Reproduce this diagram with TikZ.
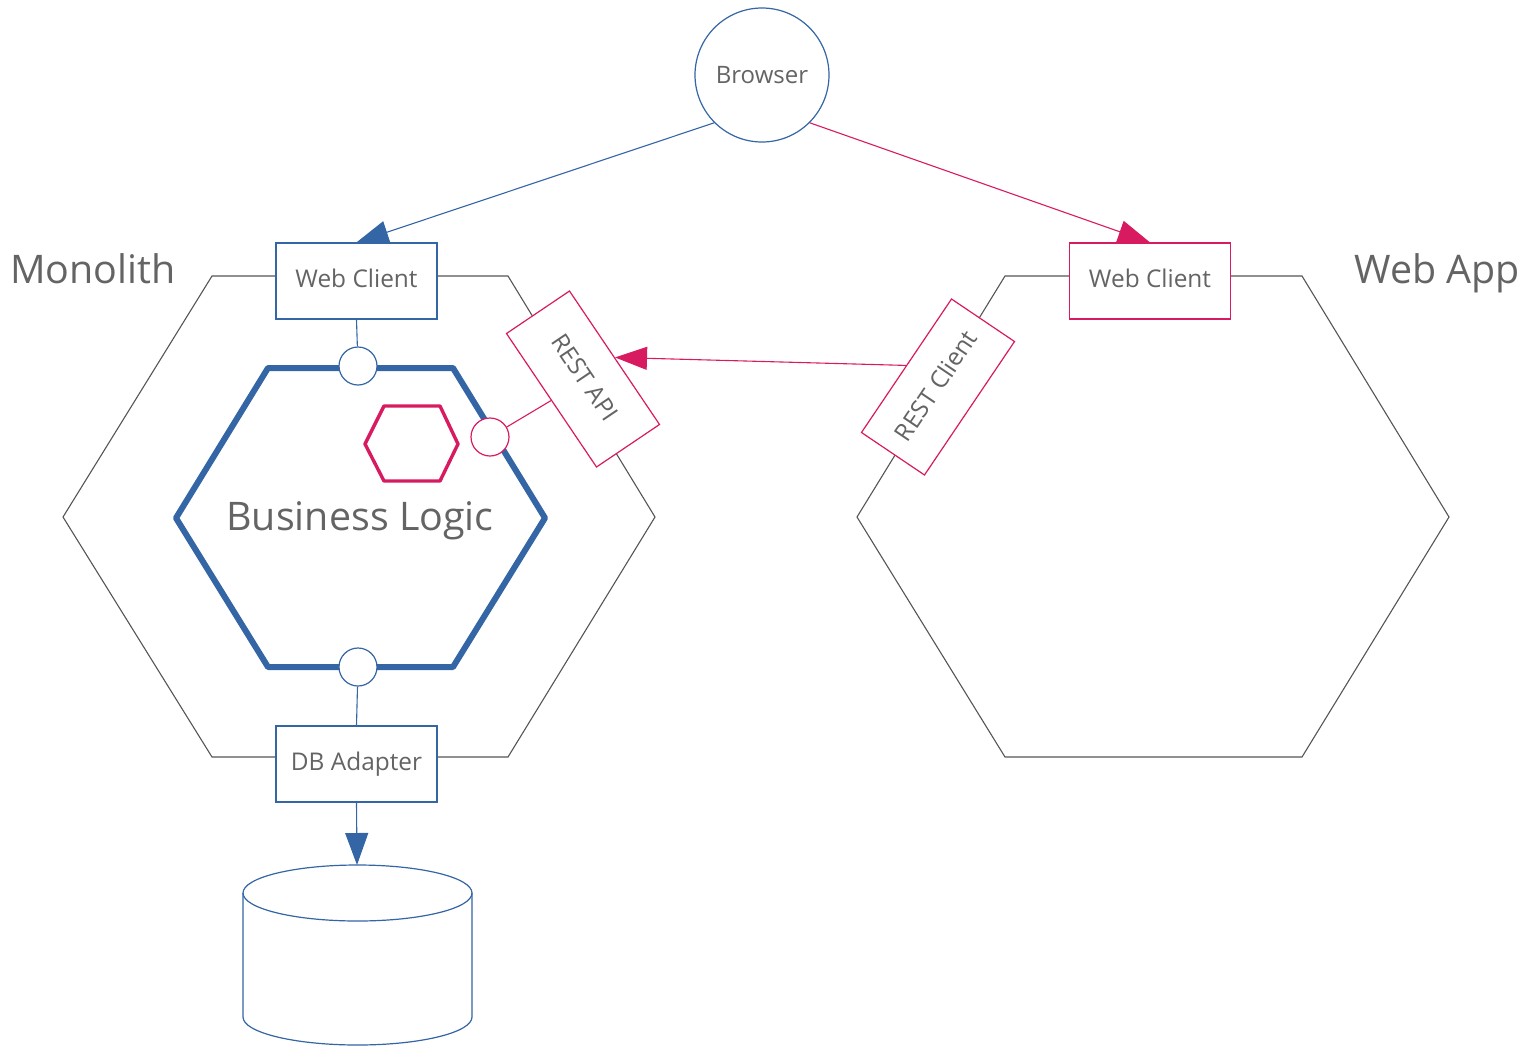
\documentclass[tikz,border=0pt]{standalone}
\usepackage{fontspec}
\setmainfont{Open Sans}
\usetikzlibrary{arrows.meta,backgrounds}
\definecolor{bl}{RGB}{52,101,164}
\definecolor{rd}{RGB}{216,27,96}
\definecolor{tx}{RGB}{100,100,100}
\definecolor{hx}{RGB}{85,85,85}
\begin{document}
\begin{tikzpicture}[x=0.5pt,y=-0.5pt,
  box/.style={draw, fill=white, minimum width=80.5pt, minimum height=38pt, inner sep=0pt,
    text=tx, font=\fontsize{12.2}{14}\selectfont, text height=9pt, text depth=2.6pt, line width=0.6pt},
  port/.style={circle, draw, fill=white, minimum size=19pt, inner sep=0pt, line width=0.6pt},
  hexline/.style={draw=hx, line width=0.55pt, line join=miter},
  biglabel/.style={text=tx, font=\fontsize{19.7}{23}\selectfont, inner sep=0pt, anchor=base},
  conn/.style={line width=0.55pt},
  tip/.style={-{Triangle[length=16pt,width=11.5pt]}}
]
\useasboundingbox (0,0) rectangle (1527,1045);

% outer hexagons
\draw[hexline] (212,276) -- (508,276) -- (655,517) -- (508,757) -- (212,757) -- (63,517) -- cycle;
\draw[hexline] (1005,276) -- (1302,276) -- (1449,517) -- (1302,757) -- (1005,757) -- (857,517) -- cycle;

% business logic hexagon
\draw[bl, line width=3pt, line join=round] (268,368) -- (453,368) -- (545,518) -- (453,667) -- (268,667) -- (176,518) -- cycle;
\draw[rd, line width=1.7pt, line join=round] (384,406) -- (440,406) -- (458,444) -- (440,481) -- (384,481) -- (365,444) -- cycle;

% labels
\node[biglabel] (mono) at (93,283) {Monolith};
\node[biglabel] (webapp) at (1437,283) {Web App};
\node[biglabel] (bl) at (360,530) {Business Logic};

% nodes
\node[circle, draw=bl, fill=white, minimum size=67pt, inner sep=0pt, line width=0.6pt, text=tx, font=\fontsize{12}{14}\selectfont] (browser) at (762,75) {Browser};
\node[box, draw=bl] (wc1) at (356.5,281) {Web Client};
\node[box, draw=rd] (wc2) at (1150,281) {Web Client};
\node[box, draw=bl] (db) at (356.5,764) {DB Adapter};
\node[box, draw=rd, rotate=-56] (api) at (583,379) {REST API};
\node[box, draw=rd, rotate=56] (rc) at (938,387) {REST Client};
\node[port, draw=bl] (p1) at (358,366) {};
\node[port, draw=bl] (p2) at (358,667) {};
\node[port, draw=rd] (p3) at (490,437) {};
\coordinate (cyltop) at (357,865);

% cylinder
\draw[bl, line width=0.6pt, fill=white] (243,893) -- (243,1017) arc[start angle=180, end angle=0, x radius=114.5, y radius=28] -- (472,893);
\draw[bl, line width=0.6pt] (357.5,893) ellipse [x radius=114.5, y radius=28];

% connectors
\begin{scope}[on background layer]
\draw[conn, bl, tip] (browser.south west) -- (wc1.north);
\draw[conn, rd, tip] (browser.south east) -- (wc2.north);
\draw[conn, bl] (wc1.south) -- (p1);
\draw[conn, bl] (p2) -- (db.north);
\draw[conn, rd] (p3) -- (api.south);
\draw[conn, rd, tip] (rc.north) -- (api.north);
\end{scope}
\draw[conn, bl, tip] (db.south) -- (cyltop);
\end{tikzpicture}
\end{document}
